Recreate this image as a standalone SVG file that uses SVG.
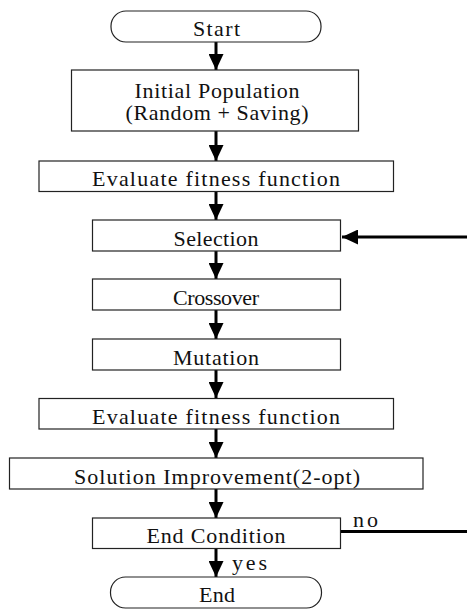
<svg xmlns="http://www.w3.org/2000/svg" width="467" height="609" viewBox="0 0 467 609">
<style>
.box{fill:#fff;stroke:#222;stroke-width:1.2}
.ln{stroke:#000;stroke-width:3;fill:none}
</style>
<defs>
<marker id="ah" markerUnits="userSpaceOnUse" markerWidth="16" markerHeight="15" refX="16" refY="7.5" orient="auto">
<path d="M0,0 L16,7.5 L0,15 Z" fill="#000"/>
</marker>
</defs>
<g id="connectors">
<line class="ln" x1="216" y1="42" x2="216" y2="70" marker-end="url(#ah)"/>
<line class="ln" x1="216" y1="131" x2="216" y2="161" marker-end="url(#ah)"/>
<line class="ln" x1="216" y1="192" x2="216" y2="220" marker-end="url(#ah)"/>
<line class="ln" x1="216" y1="251" x2="216" y2="279" marker-end="url(#ah)"/>
<line class="ln" x1="216" y1="310" x2="216" y2="339" marker-end="url(#ah)"/>
<line class="ln" x1="216" y1="370" x2="216" y2="398" marker-end="url(#ah)"/>
<line class="ln" x1="216" y1="429" x2="216" y2="458" marker-end="url(#ah)"/>
<line class="ln" x1="216" y1="489" x2="216" y2="518" marker-end="url(#ah)"/>
<line class="ln" x1="216" y1="548" x2="216" y2="577" marker-end="url(#ah)"/>
<line class="ln" x1="467" y1="237" x2="342" y2="237" marker-end="url(#ah)"/>
<line class="ln" x1="341" y1="531.5" x2="467" y2="531.5"/>
<g font-family="Liberation Serif, Times New Roman, serif" font-size="22" fill="#111">
<text x="353" y="527" textLength="25">no</text>
<text x="232" y="570" textLength="35">yes</text>
</g>
</g>
<g font-family="Liberation Serif, Times New Roman, serif" font-size="22" fill="#111" text-anchor="middle">
<g id="start">
<rect class="box" x="111" y="11" width="210" height="31" rx="15"/>
<text x="216.5" y="36" textLength="47">Start</text>
</g>
<g id="init">
<rect class="box" x="71.5" y="70" width="287" height="61"/>
<text x="217" y="97.5" textLength="165">Initial Population</text>
<text x="217" y="119.5" textLength="183">(Random + Saving)</text>
</g>
<g id="eval1">
<rect class="box" x="39" y="161" width="354.5" height="30.5"/>
<text x="216" y="186" textLength="248">Evaluate fitness function</text>
</g>
<g id="selection">
<rect class="box" x="92.5" y="220" width="248" height="31"/>
<text x="216" y="246" textLength="85">Selection</text>
</g>
<g id="crossover">
<rect class="box" x="92.5" y="279" width="248" height="31"/>
<text x="216" y="305" textLength="86">Crossover</text>
</g>
<g id="mutation">
<rect class="box" x="92.5" y="339" width="248" height="31"/>
<text x="216" y="364.5" textLength="86">Mutation</text>
</g>
<g id="eval2">
<rect class="box" x="39" y="398.5" width="354.5" height="30.5"/>
<text x="216" y="424" textLength="248">Evaluate fitness function</text>
</g>
<g id="improve">
<rect class="box" x="9.5" y="458" width="413.5" height="31"/>
<text x="217" y="483.5" textLength="286">Solution Improvement(2-opt)</text>
</g>
<g id="endcond">
<rect class="box" x="92.5" y="518" width="248" height="30.5"/>
<text x="216" y="542.5" textLength="139">End Condition</text>
</g>
<g id="end">
<rect class="box" x="110.5" y="577" width="211" height="31" rx="15"/>
<text x="217" y="601.5" textLength="36">End</text>
</g>
</g>
</svg>
